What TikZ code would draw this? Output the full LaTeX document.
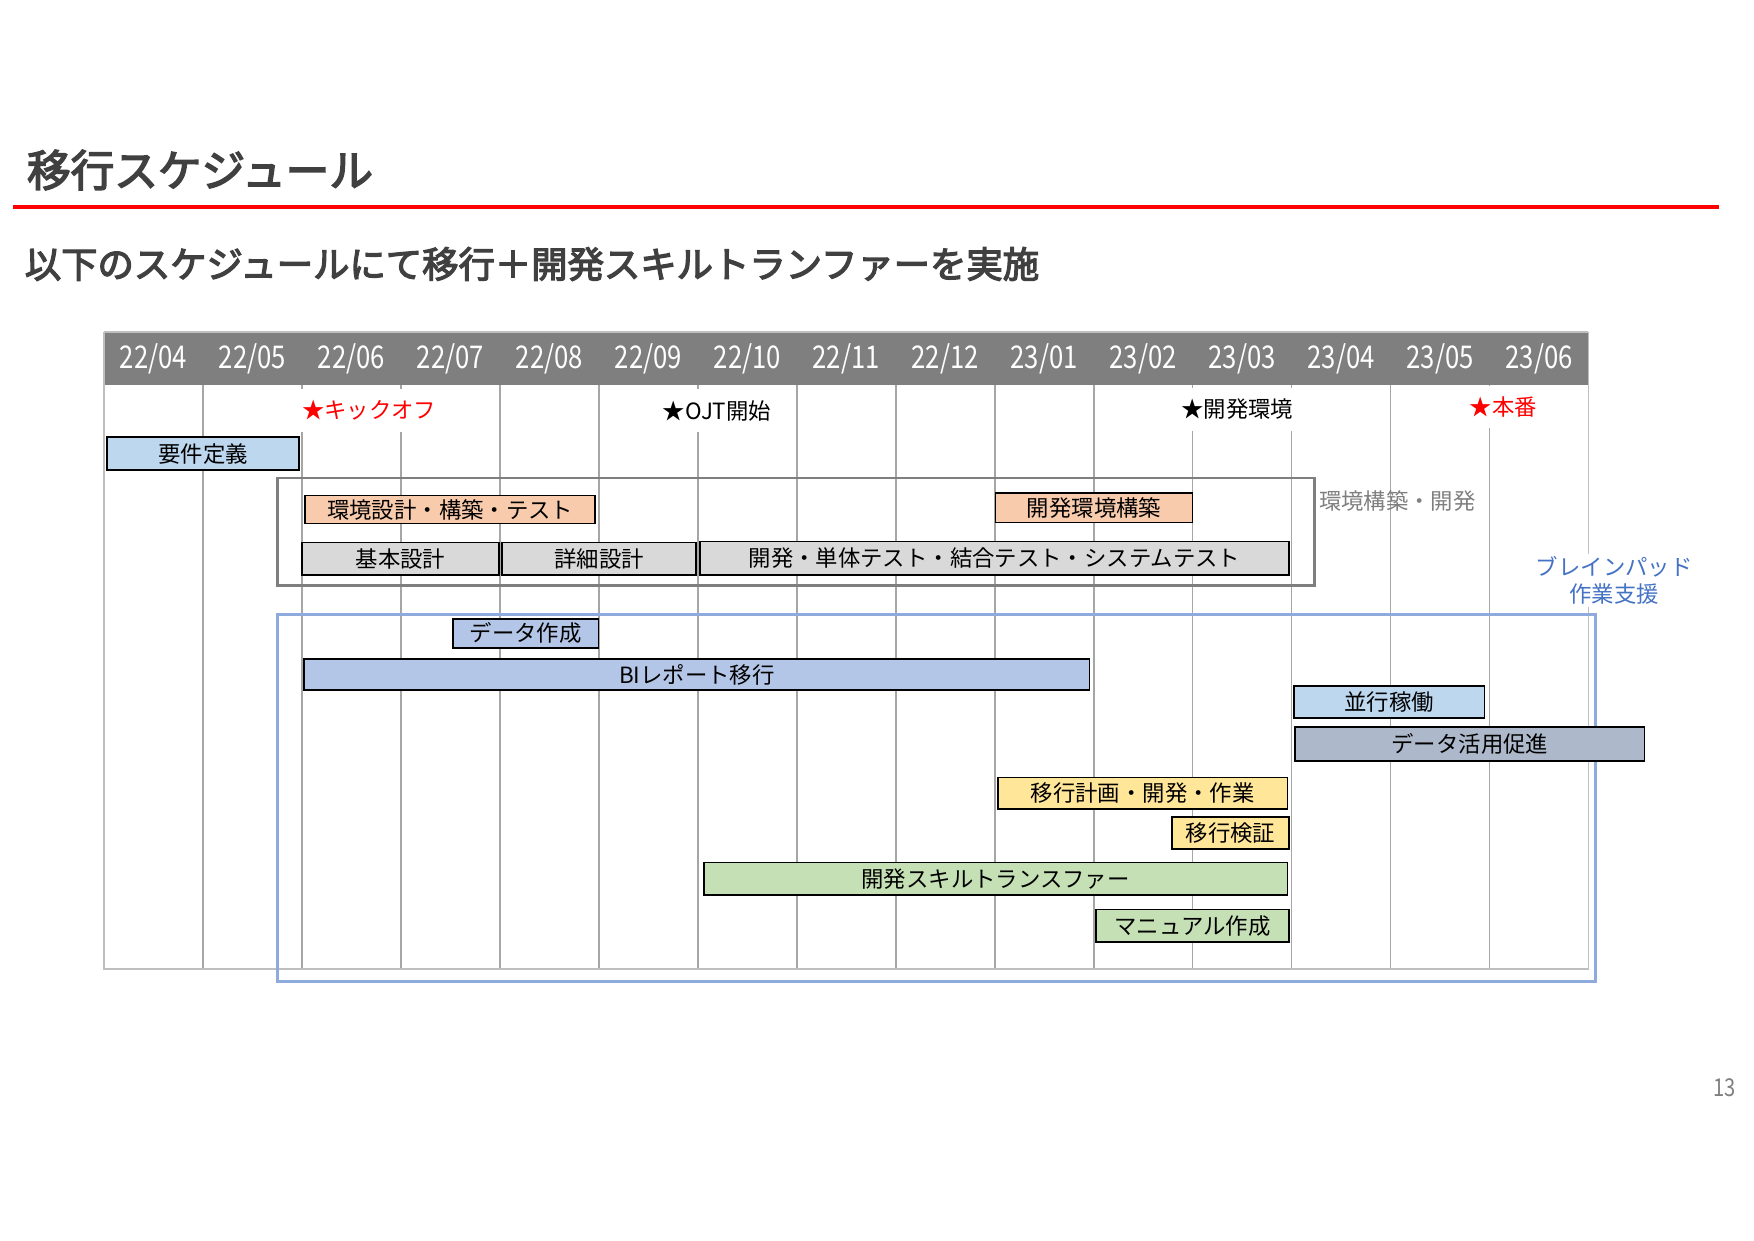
\documentclass[tikz,border=0pt]{standalone}
\usepackage{fontspec}
\setmainfont{Noto Sans CJK JP}
\newfontfamily\condfont{Noto Sans CJK JP}[FakeStretch=0.82]
\newfontfamily\headfont{Noto Sans CJK JP}[FakeBold=3.5]
\definecolor{hdrgray}{HTML}{7F7F7F}
\definecolor{gridgray}{HTML}{A6A6A6}
\definecolor{framegray}{HTML}{BFBFBF}
\definecolor{titlegray}{HTML}{404040}
\definecolor{cLightBlue}{HTML}{BDD7EE}
\definecolor{cPeach}{HTML}{F8CBAD}
\definecolor{cGray}{HTML}{D9D9D9}
\definecolor{cBlue}{HTML}{B4C6E7}
\definecolor{cSlate}{HTML}{ADB9CA}
\definecolor{cYellow}{HTML}{FFE699}
\definecolor{cGreen}{HTML}{C5E0B4}
\definecolor{bpBlue}{HTML}{8FAADC}
\definecolor{bpText}{HTML}{4472C4}
\definecolor{redline}{HTML}{FF0000}
\tikzset{
  barbox/.style={draw=black, line width=1.6pt, inner sep=0pt, outer sep=0pt, anchor=north west,
    font=\fontsize{20}{24}\selectfont, text=black},
  month/.style={text=white, font=\condfont\fontsize{28}{30}\selectfont, inner sep=0pt},
  milestone/.style={fill=white, inner sep=3pt, minimum height=38pt, font=\fontsize{20}{24}\selectfont},
  gridline/.style={draw=gridgray, line width=1.5pt},
}
\newcommand{\gbar}[7]{\node[barbox, fill=#2, minimum width={#5-#3}, minimum height={#6-#4}] (#1) at (#3,#4) {#7};}
\begin{document}
\begin{tikzpicture}[x=1pt, y=-1pt]
\useasboundingbox (0,0) rectangle (1568,1109);
% title
\node[anchor=west, inner sep=0pt, text=titlegray, font=\headfont\fontsize{39}{44}\selectfont] (title) at (24,152) {移行スケジュール};
\draw[redline, line width=4pt] (12,185) -- (1537,185);
\node[anchor=west, inner sep=0pt, text=titlegray, font=\headfont\fontsize{32.5}{36}\selectfont] (subtitle) at (22,236) {以下のスケジュールにて移行＋開発スキルトランファーを実施};
% grid
\fill[hdrgray] (93,297) rectangle (1420,344);
\draw[framegray, line width=1.5pt] (93,297) -- (1420,297);
\foreach \k in {1,...,14} {
  \draw[gridline] ({93+\k*88.47},344) -- ({93+\k*88.47},866);
}
\draw[framegray, line width=1.5pt] (93,297) -- (93,866) -- (1420,866) -- (1420,297);
\foreach \m [count=\k from 0] in {22/04,22/05,22/06,22/07,22/08,22/09,22/10,22/11,22/12,23/01,23/02,23/03,23/04,23/05,23/06} {
  \node[month] (m\k) at ({93+(\k+0.5)*88.47},321) {\m};
}
% milestones
\node[milestone, text=red] (ms1) at (330,367) {★キックオフ};
\node[milestone, text=black] (ms2) at (641,367) {★OJT開始};
\node[milestone, text=black] (ms3) at (1106,366) {★開発環境};
\node[milestone, text=red] (ms4) at (1344,364) {★本番};
% group boxes
\node[draw=hdrgray, line width=2.4pt, inner sep=0pt, anchor=north west, minimum width=927, minimum height=96] (envbox) at (247,426) {};
\node[anchor=west, inner sep=0pt, text=hdrgray, font=\fontsize{20}{24}\selectfont] (envlabel) at (1179,448) {環境構築・開発};
\node[draw=bpBlue, line width=2.4pt, inner sep=0pt, anchor=north west, minimum width=1178, minimum height=328] (bpbox) at (247,548) {};
\node[align=center, fill=white, inner sep=2pt, text=bpText, font=\fontsize{20}{24}\selectfont] (bplabel) at (1443,519) {ブレインパッド\\作業支援};
% bars
\gbar{req}{cLightBlue}{96}{391}{267}{420}{要件定義}
\gbar{env1}{cPeach}{273}{443}{532}{468}{環境設計・構築・テスト}
\gbar{devenv}{cPeach}{890}{441}{1066}{467}{開発環境構築}
\gbar{kihon}{cGray}{270}{485}{446}{514}{基本設計}
\gbar{shosai}{cGray}{449}{485}{622}{514}{詳細設計}
\gbar{kaihatsu}{cGray}{626}{484}{1152}{514}{開発・単体テスト・結合テスト・システムテスト}
\gbar{data}{cBlue}{405}{553}{535}{579}{データ作成}
\gbar{bi}{cBlue}{272}{589}{974}{617}{BIレポート移行}
\gbar{heikou}{cLightBlue}{1157}{613}{1327}{642}{並行稼働}
\gbar{katsuyo}{cSlate}{1158}{650}{1470}{680}{データ活用促進}
\gbar{ikou}{cYellow}{892}{695}{1151}{723}{移行計画・開発・作業}
\gbar{kensho}{cYellow}{1048}{730}{1152}{759}{移行検証}
\gbar{skill}{cGreen}{629}{771}{1151}{800}{開発スキルトランスファー}
\gbar{manual}{cGreen}{980}{813}{1152}{842}{マニュアル作成}
% page number
\node[text=hdrgray, font=\condfont\fontsize{22}{24}\selectfont, inner sep=0pt] (page) at (1542,972) {13};
\end{tikzpicture}
\end{document}
